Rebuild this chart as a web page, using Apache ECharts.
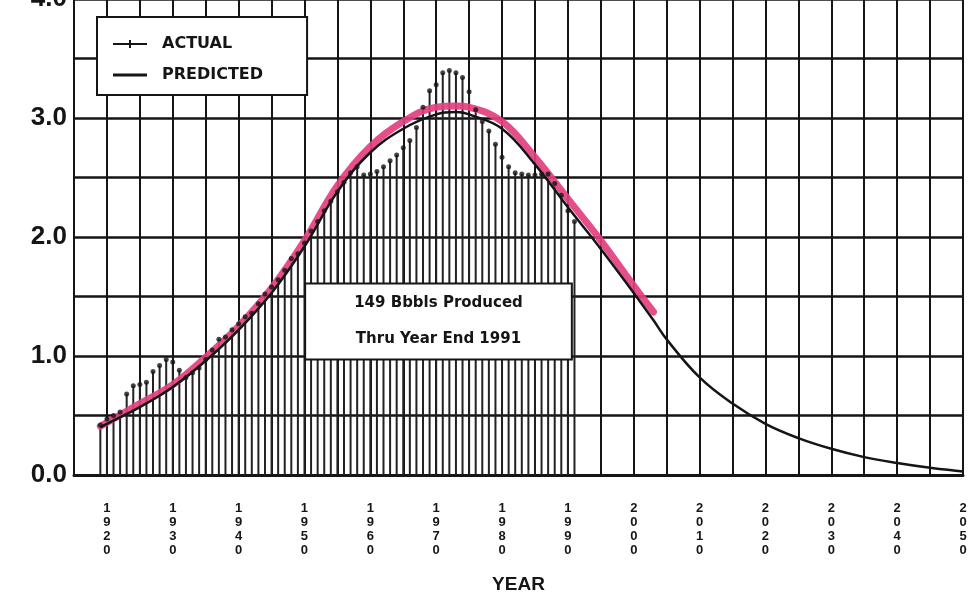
<!DOCTYPE html>
<html>
<head>
<meta charset="utf-8">
<script src="https://cdn.jsdelivr.net/npm/echarts@6/dist/echarts.min.js"></script>
<style>
  html, body { margin: 0; padding: 0; background: #ffffff; }
  #chart { width: 968px; height: 594px; }
</style>
</head>
<body>
<div id="chart"></div>
<script>
// Annual crude production, billions of barrels per year
const actualYears = [
  1919, 1920, 1921, 1922, 1923, 1924, 1925, 1926, 1927, 1928,
  1929, 1930, 1931, 1932, 1933, 1934, 1935, 1936, 1937, 1938,
  1939, 1940, 1941, 1942, 1943, 1944, 1945, 1946, 1947, 1948,
  1949, 1950, 1951, 1952, 1953, 1954, 1955, 1956, 1957, 1958,
  1959, 1960, 1961, 1962, 1963, 1964, 1965, 1966, 1967, 1968,
  1969, 1970, 1971, 1972, 1973, 1974, 1975, 1976, 1977, 1978,
  1979, 1980, 1981, 1982, 1983, 1984, 1985, 1986, 1987, 1988,
  1989, 1990, 1991
];
const actualValues = [
  0.42, 0.47, 0.50, 0.53, 0.68, 0.75, 0.76, 0.78, 0.87, 0.92,
  0.97, 0.95, 0.88, 0.82, 0.86, 0.90, 0.97, 1.05, 1.14, 1.16,
  1.22, 1.27, 1.33, 1.36, 1.44, 1.52, 1.58, 1.64, 1.72, 1.82,
  1.86, 1.95, 2.05, 2.13, 2.22, 2.30, 2.38, 2.46, 2.54, 2.59,
  2.52, 2.53, 2.55, 2.59, 2.64, 2.69, 2.75, 2.81, 2.92, 3.09,
  3.23, 3.28, 3.38, 3.40, 3.38, 3.34, 3.22, 3.07, 2.97, 2.89,
  2.78, 2.67, 2.59, 2.54, 2.53, 2.52, 2.52, 2.53, 2.53, 2.45,
  2.35, 2.22, 2.13
];

// Fitted production curve
const predictedYears = [
  1919, 1920, 1925, 1930, 1935, 1940, 1945, 1950, 1955, 1960,
  1965, 1970, 1973, 1975, 1980, 1985, 1990, 1995, 2000, 2003,
  2005, 2010, 2015, 2020, 2025, 2030, 2035, 2040, 2045, 2050
];
const predictedValues = [
  0.40, 0.43, 0.57, 0.74, 0.96, 1.22, 1.53, 1.92, 2.38, 2.71,
  2.91, 3.03, 3.05, 3.03, 2.91, 2.61, 2.25, 1.90, 1.53, 1.30,
  1.14, 0.82, 0.60, 0.43, 0.31, 0.22, 0.15, 0.10, 0.06, 0.03
];

// Hand-marked highlight traced over the fitted curve
const highlightYears = [
  1919, 1925, 1930, 1935, 1940, 1945, 1950, 1955, 1960, 1965,
  1970, 1973, 1975, 1980, 1985, 1990, 1995, 2000, 2003
];
const highlightValues = [
  0.41, 0.60, 0.76, 0.99, 1.25, 1.57, 1.97, 2.43, 2.76, 2.97,
  3.09, 3.10, 3.09, 2.97, 2.67, 2.32, 1.97, 1.59, 1.37
];

// Axis tick labels
const yTickLabels = ['0.0', '1.0', '2.0', '3.0', '4.0'];
const xTickYears = [1920, 1930, 1940, 1950, 1960, 1970, 1980, 1990, 2000, 2010, 2020, 2030, 2040, 2050];

const totalNote = ['149 Bbbls Produced', 'Thru Year End 1991'];

const ink = '#151515';
const pink = '#e43f80';

const actualPairs = actualYears.map((y, i) => [y, actualValues[i]]);
const predictedPairs = predictedYears.map((y, i) => [y, predictedValues[i]]);
const highlightPairs = highlightYears.map((y, i) => [y, highlightValues[i]]);

const actualIcon = 'path://M0,3H34V5H0Z M16,0H18V8H16Z';
const predictedIcon = 'path://M0,2.5H34V5.5H0Z';

const chart = echarts.init(document.getElementById('chart'), null, { renderer: 'canvas' });

chart.setOption({
  backgroundColor: '#ffffff',
  animation: false,
  grid: { left: 74, right: 5, top: -1, bottom: 119, containLabel: false, outerBoundsMode: 'none' },
  legend: {
    orient: 'vertical',
    left: 97,
    top: 17,
    padding: [19, 44, 12, 16],
    itemGap: 15,
    itemWidth: 34,
    itemHeight: 8,
    backgroundColor: '#ffffff',
    borderColor: ink,
    borderWidth: 2,
    selectedMode: false,
    itemStyle: { borderWidth: 0 },
    textStyle: {
      fontFamily: 'DejaVu Sans',
      fontWeight: 'bold',
      fontSize: 16,
      color: ink,
      padding: [0, 0, 0, 10]
    },
    data: [
      { name: 'ACTUAL', icon: actualIcon, itemStyle: { color: ink } },
      { name: 'PREDICTED', icon: predictedIcon, itemStyle: { color: ink } }
    ]
  },
  xAxis: {
    type: 'value',
    min: 1915,
    max: 2050,
    interval: 5,
    name: 'YEAR',
    nameLocation: 'middle',
    nameGap: 100,
    nameTextStyle: {
      fontFamily: 'Liberation Sans',
      fontWeight: 'bold',
      fontSize: 19,
      color: ink
    },
    axisLine: { show: true, onZero: false, lineStyle: { color: ink, width: 3 } },
    axisTick: { show: false },
    axisLabel: {
      margin: 26,
      fontFamily: 'Liberation Sans',
      fontWeight: 'bold',
      fontSize: 13,
      lineHeight: 14,
      color: ink,
      formatter: v => xTickYears.includes(v) ? String(v).split('').join('\n') : ''
    },
    splitLine: { show: true, lineStyle: { color: ink, width: 2 } }
  },
  yAxis: {
    type: 'value',
    min: 0,
    max: 4,
    interval: 0.5,
    axisLine: { show: true, lineStyle: { color: ink, width: 2 } },
    axisTick: { show: false },
    axisLabel: {
      margin: 7,
      fontFamily: 'Liberation Sans',
      fontWeight: 'bold',
      fontSize: 26,
      color: ink,
      formatter: v => Number.isInteger(v) ? yTickLabels[v] : ''
    },
    splitLine: { show: true, lineStyle: { color: ink, width: 2.5 } }
  },
  series: [
    {
      name: 'ACTUAL',
      type: 'bar',
      data: actualPairs,
      barWidth: 2,
      itemStyle: { color: '#222222' },
      silent: true,
      z: 2
    },
    {
      name: 'highlight',
      type: 'line',
      data: highlightPairs,
      smooth: 0.4,
      symbol: 'none',
      lineStyle: { color: pink, width: 7, opacity: 0.92, cap: 'round' },
      silent: true,
      z: 3
    },
    {
      name: 'PREDICTED',
      type: 'line',
      data: predictedPairs,
      smooth: 0.4,
      symbol: 'none',
      lineStyle: { color: ink, width: 2.5 },
      silent: true,
      z: 4,
      markArea: {
        silent: true,
        z: 10,
        itemStyle: { color: '#ffffff', borderColor: ink, borderWidth: 2 },
        label: {
          show: true,
          position: 'inside',
          formatter: totalNote.join('\n'),
          fontFamily: 'DejaVu Sans',
          fontWeight: 'bold',
          fontSize: 15,
          lineHeight: 36,
          color: ink
        },
        data: [[{ coord: [1950.1, 0.97] }, { coord: [1990.6, 1.61] }]]
      }
    },
    {
      name: 'ACTUAL',
      type: 'scatter',
      data: actualPairs,
      symbol: 'circle',
      symbolSize: 5,
      itemStyle: { color: ink },
      silent: true,
      z: 5
    }
  ]
});
</script>
</body>
</html>
